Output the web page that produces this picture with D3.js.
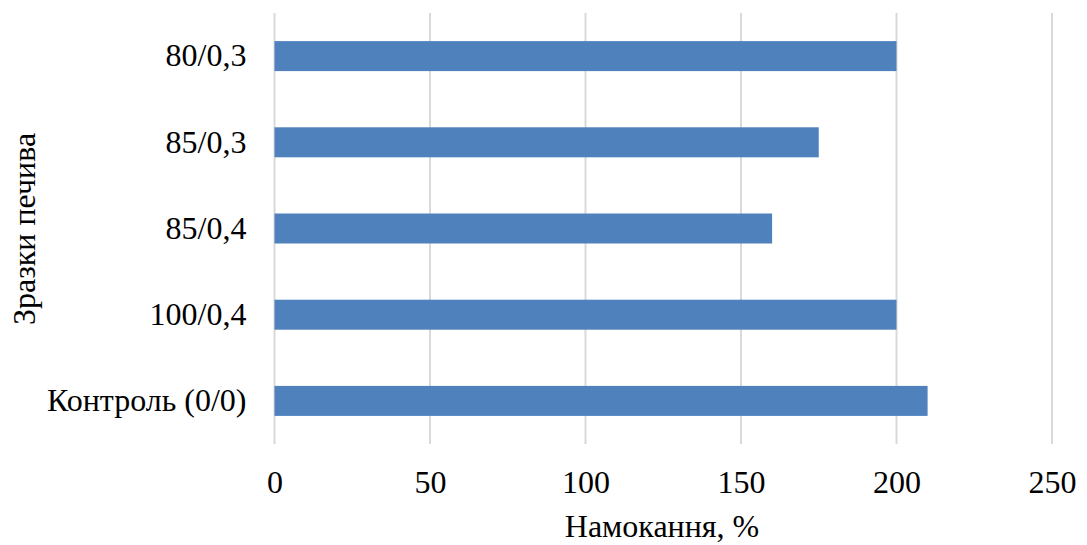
<!DOCTYPE html>
<html>
<head>
<meta charset="utf-8">
<script src="https://cdn.jsdelivr.net/npm/d3@7"></script>
<style>
  html, body { margin: 0; padding: 0; background: #fff; }
  svg { display: block; }
  text { font-family: "Liberation Serif", "Times New Roman", serif; fill: #000; }
</style>
</head>
<body>
<svg id="chart" width="1087" height="545"></svg>
<script>
// Samples, listed top to bottom
const samples = ["80/0,3", "85/0,3", "85/0,4", "100/0,4", "Контроль (0/0)"];
// Soaking, %
const soaking = [200, 175, 160, 200, 210];
const xTicks = [0, 50, 100, 150, 200, 250];
const xTitle = "Намокання, %";
const yTitle = "Зразки печива";

const svg = d3.select("#chart");
const margin = { top: 13, right: 35, bottom: 101, left: 274.5 };
const W = 1087, H = 545;

const x = d3.scaleLinear().domain([0, 250]).range([margin.left, W - margin.right]);
const y = d3.scaleBand().domain(samples).range([margin.top, H - margin.bottom]).paddingInner(0.652).paddingOuter(0.326);

// vertical gridlines
svg.append("g").selectAll("line").data(xTicks).join("line")
  .attr("x1", d => x(d)).attr("x2", d => x(d))
  .attr("y1", margin.top).attr("y2", H - margin.bottom)
  .attr("stroke", "#d9d9d9").attr("stroke-width", 2);

// bars
svg.append("g").selectAll("rect").data(samples).join("rect")
  .attr("x", x(0))
  .attr("y", d => y(d))
  .attr("width", (d, i) => x(soaking[i]) - x(0))
  .attr("height", y.bandwidth())
  .attr("fill", "#4f81bd");

// x axis labels
const xAxis = svg.append("g")
  .attr("transform", `translate(0,${H - margin.bottom})`)
  .call(d3.axisBottom(x).tickValues(xTicks).tickSize(0).tickPadding(26).tickFormat(d3.format("d")));
xAxis.select(".domain").remove();
xAxis.selectAll("text").style("font-size", "32px").attr("font-family", "Liberation Serif").attr("fill", "#000");

// y axis labels
const yAxis = svg.append("g")
  .attr("transform", `translate(${margin.left},0)`)
  .call(d3.axisLeft(y).tickSize(0).tickPadding(28));
yAxis.select(".domain").remove();
yAxis.selectAll("text").style("font-size", "32px").attr("font-family", "Liberation Serif").attr("fill", "#000");

// axis titles
svg.append("text")
  .attr("x", 662).attr("y", 537)
  .attr("text-anchor", "middle")
  .style("font-size", "32px")
  .text(xTitle);

svg.append("text")
  .attr("transform", "translate(35,229) rotate(-90)")
  .attr("text-anchor", "middle")
  .style("font-size", "32px")
  .text(yTitle);
</script>
</body>
</html>
